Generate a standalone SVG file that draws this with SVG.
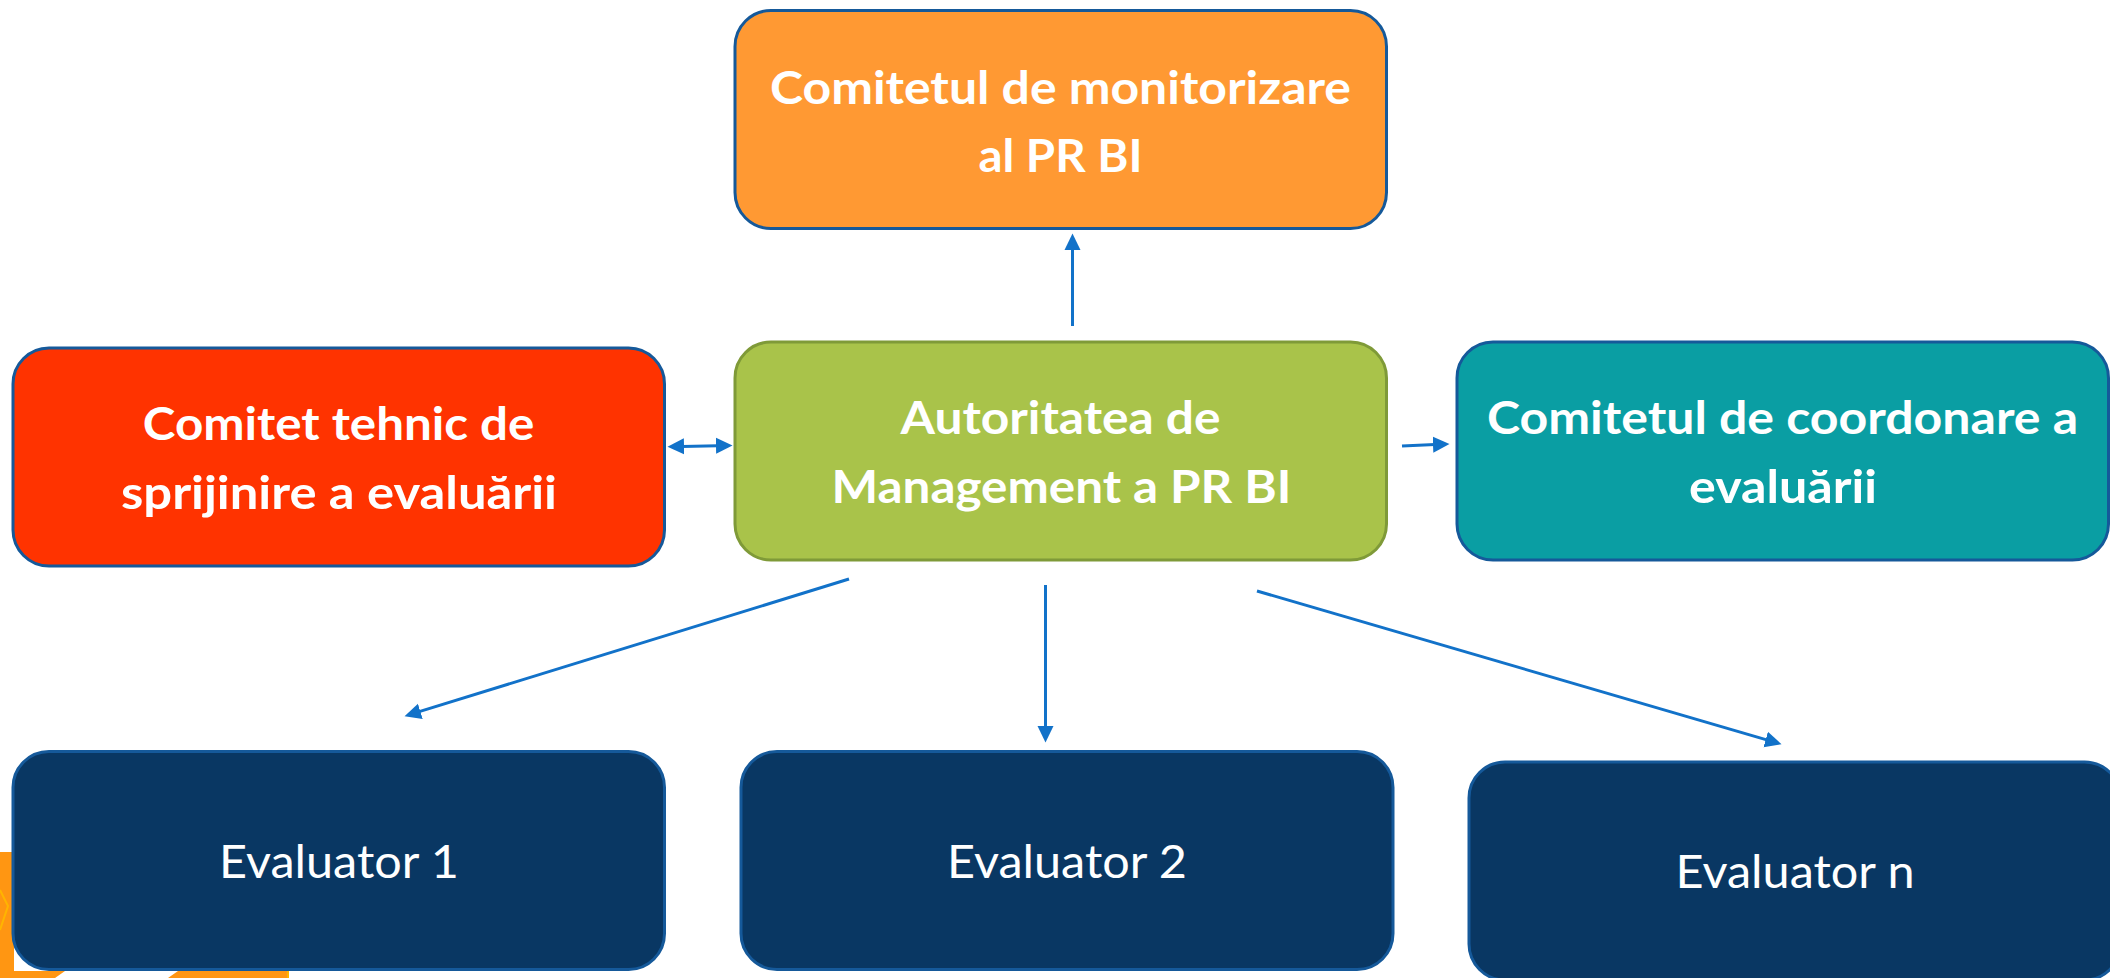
<svg xmlns="http://www.w3.org/2000/svg" width="2110" height="978" viewBox="0 0 2110 978">
<style>
.box{stroke:#15599a;stroke-width:3}
.bt{font-family:"Lato","Liberation Sans",sans-serif;font-weight:700;font-size:46px;fill:#fff;text-anchor:middle}
.rt{font-family:"Lato","Liberation Sans",sans-serif;font-weight:400;font-size:46.5px;fill:#fff;text-anchor:middle}
.c{fill:none;stroke:#1272c9;stroke-width:3;marker-end:url(#ah)}
</style>
<defs>
<marker id="ah" markerUnits="userSpaceOnUse" markerWidth="18" markerHeight="18" refX="2" refY="9" orient="auto-start-reverse">
<path d="M0 1L16.5 9L0 17Z" fill="#1272c9"/>
</marker>
</defs>
<rect width="2110" height="978" fill="#fff"/>
<g id="backdrop">
<path d="M0 852H14V971L65 971L55 978H0Z M168 978L178 971H288V978Z" fill="#ff9612"/>
<path d="M0 890L8 906L0 930" fill="none" stroke="#ffb400" stroke-width="2"/>
<path d="M288 971V978" fill="none" stroke="#ffb400" stroke-width="2"/>
</g>
<g id="connectors">
<path class="c" d="M1072.5 326V248"/>
<path class="c" style="marker-start:url(#ah)" d="M682 446.4L718 445.7"/>
<path class="c" d="M1402 446L1435 444.6"/>
<path class="c" d="M849 579L418.4 711.9"/>
<path class="c" d="M1045.5 585V728"/>
<path class="c" d="M1257 591L1767.6 740.1"/>
</g>
<g id="monitorizare">
<rect class="box" x="735" y="10.5" width="651.5" height="218" rx="36" fill="#ff9933"/>
<text class="bt" x="1060.5" y="104" textLength="581" lengthAdjust="spacingAndGlyphs">Comitetul de monitorizare</text>
<text class="bt" x="1060.5" y="172" textLength="164" lengthAdjust="spacingAndGlyphs">al PR BI</text>
</g>
<g id="comitet-tehnic">
<rect class="box" x="13" y="348" width="651.5" height="218" rx="36" fill="#ff3300"/>
<text class="bt" x="338.6" y="440" textLength="391.5" lengthAdjust="spacingAndGlyphs">Comitet tehnic de</text>
<text class="bt" x="339" y="509" textLength="436" lengthAdjust="spacingAndGlyphs">sprijinire a evaluării</text>
</g>
<g id="autoritatea">
<rect x="735" y="342" width="651.5" height="218" rx="36" fill="#a9c34a" stroke="#7f9a38" stroke-width="3"/>
<text class="bt" x="1060.5" y="434" textLength="320" lengthAdjust="spacingAndGlyphs">Autoritatea de</text>
<text class="bt" x="1061.5" y="503" textLength="460" lengthAdjust="spacingAndGlyphs">Management a PR BI</text>
</g>
<g id="coordonare">
<rect class="box" x="1457" y="342" width="651.5" height="218" rx="36" fill="#0a9ea3"/>
<text class="bt" x="1782.5" y="434" textLength="591" lengthAdjust="spacingAndGlyphs">Comitetul de coordonare a</text>
<text class="bt" x="1783" y="503" textLength="188" lengthAdjust="spacingAndGlyphs">evaluării</text>
</g>
<g id="evaluator-1">
<rect class="box" x="13" y="751.5" width="651.5" height="218" rx="36" fill="#093763"/>
<text class="rt" x="339" y="878" textLength="240" lengthAdjust="spacingAndGlyphs">Evaluator 1</text>
</g>
<g id="evaluator-2">
<rect class="box" x="741" y="751.5" width="652" height="218" rx="36" fill="#093763"/>
<text class="rt" x="1067" y="878" textLength="240" lengthAdjust="spacingAndGlyphs">Evaluator 2</text>
</g>
<g id="evaluator-n">
<rect class="box" x="1469" y="762" width="651.5" height="218" rx="36" fill="#093763"/>
<text class="rt" x="1795" y="888" textLength="239" lengthAdjust="spacingAndGlyphs">Evaluator n</text>
</g>
</svg>
